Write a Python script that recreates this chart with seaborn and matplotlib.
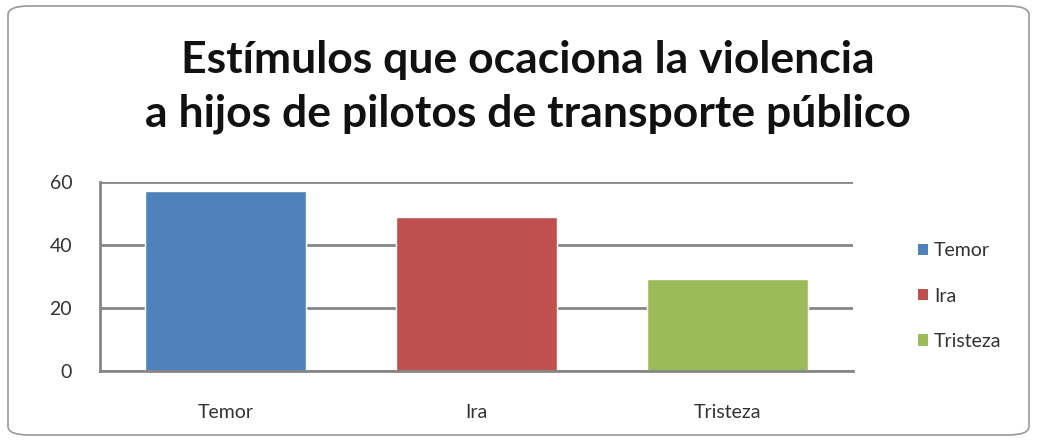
import matplotlib
matplotlib.use("Agg")
import matplotlib.pyplot as plt
import seaborn as sns
import pandas as pd
from matplotlib.patches import FancyBboxPatch, Patch

categories = ["Temor", "Ira", "Tristeza"]
values = [57, 49, 29]
colors = ["#4F81BD", "#C0504D", "#9BBB59"]
yticks = [0, 20, 40, 60]
title = "Estímulos que ocaciona la violencia\na hijos de pilotos de transporte público"

sns.set_theme(style="white")
plt.rcParams['font.family'] = ['Lato', 'DejaVu Sans']

df = pd.DataFrame({"cat": categories, "val": values})

fig = plt.figure(figsize=(10.37, 4.4), dpi=100)
ax = fig.add_axes([100/1037, 1-370.7/440, (853-100)/1037, (370.7-182)/440])

sns.barplot(data=df, x="cat", y="val", hue="cat", palette=colors, order=categories,
            hue_order=categories, width=0.64, legend=False, ax=ax, saturation=1)

ax.set_ylim(0, 60)
ax.set_yticks(yticks)
ax.set_yticklabels([str(t) for t in yticks], fontsize=14, color="#333333")
ax.set_xlabel("")
ax.set_ylabel("")
ax.tick_params(axis="x", labelsize=14, colors="#333333", length=0, pad=24)
ax.tick_params(axis="y", length=0, pad=20)
ax.yaxis.grid(True, color="#868686", linewidth=2)
ax.set_axisbelow(True)
for s in ["top", "right"]:
    ax.spines[s].set_visible(False)
ax.spines["left"].set_color("#868686")
ax.spines["left"].set_linewidth(2)
ax.spines["bottom"].set_color("#868686")
ax.spines["bottom"].set_linewidth(2)

handles = [Patch(facecolor=c, edgecolor="none", label=l) for c, l in zip(colors, categories)]
fig.legend(handles=handles, loc="center left", bbox_to_anchor=(900/1037, 1-296/440),
           frameon=False, fontsize=14, handlelength=0.55, handleheight=0.55,
           handletextpad=0.3, labelspacing=1.45, labelcolor="#333333")

fig.text(0.509, 1-87/440, title, ha="center", va="center", fontsize=32,
         fontweight="bold", color="#111111", linespacing=1.4)

border = FancyBboxPatch((8/1037, 5/440), (1029-8)/1037, (434-5)/440,
                        boxstyle="round,pad=0,rounding_size=0.02",
                        transform=fig.transFigure, facecolor="none",
                        edgecolor="#9a9a9a", linewidth=1.2)
fig.patches.append(border)

fig.savefig("out.png", dpi=100)
